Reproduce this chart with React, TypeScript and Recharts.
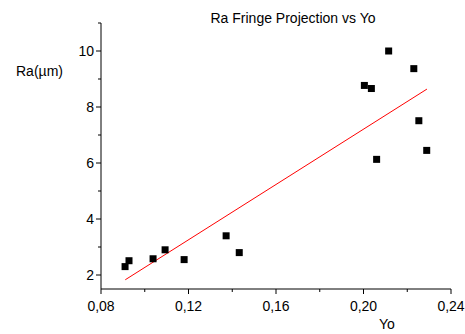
import { ScatterChart, Scatter, XAxis, YAxis } from 'recharts'

// Ra vs Yo measurements
const yoValues = [0.091, 0.0928, 0.1038, 0.1093, 0.118, 0.1372, 0.1432, 0.2004, 0.2036, 0.2115, 0.223, 0.2253, 0.206, 0.2289]
const raValues = [2.3, 2.51, 2.58, 2.9, 2.55, 3.4, 2.8, 8.77, 8.66, 10.0, 9.37, 7.51, 6.13, 6.45]

// linear fit end points
const fitYo = [0.0911, 0.229]
const fitRa = [1.83, 8.64]

const xTicks = [0.08, 0.1, 0.12, 0.14, 0.16, 0.18, 0.2, 0.22, 0.24]
const yTicks = [2, 3, 4, 5, 6, 7, 8, 9, 10, 11]

const points = yoValues.map((x, i) => ({ x, y: raValues[i] }))
const fit = fitYo.map((x, i) => ({ x, y: fitRa[i] }))

const FONT = '"Liberation Sans", Arial, sans-serif'

function XTick({ x, y, payload }: any) {
  const v = payload.value as number
  const major = Math.round(v * 100) % 4 === 0
  return (
    <g>
      <line x1={x} x2={x} y1={y} y2={y + (major ? 5 : 3)} stroke="#000" />
      {major && (
        <text x={x} y={y + 22} textAnchor="middle" fontSize={14} fontFamily={FONT} fill="#000">
          {v.toFixed(2).replace('.', ',')}
        </text>
      )}
    </g>
  )
}

function YTick({ x, y, payload }: any) {
  const v = payload.value as number
  const major = v % 2 === 0
  return (
    <g>
      <line x1={x} x2={x - (major ? 5 : 3)} y1={y} y2={y} stroke="#000" />
      {major && (
        <text x={x - 7} y={y + 5} textAnchor="end" fontSize={14} fontFamily={FONT} fill="#000">
          {v}
        </text>
      )}
    </g>
  )
}

const Square = ({ cx, cy }: any) => <rect x={cx - 3.5} y={cy - 3.5} width={7} height={7} fill="#000" />

export default function App() {
  return (
    <div style={{ position: 'absolute', left: 0, top: 0, width: 465, height: 334, background: '#fff', fontFamily: FONT }}>
      <div style={{ position: 'absolute', left: 0, width: 586, top: 9, textAlign: 'center', fontSize: 14, lineHeight: '18px' }}>
        Ra Fringe Projection vs Yo
      </div>
      <div style={{ position: 'absolute', left: 16, top: 62, fontSize: 14, lineHeight: '18px' }}>Ra(µm)</div>
      <div style={{ position: 'absolute', left: 379, top: 315, fontSize: 14, lineHeight: '18px' }}>Yo</div>
      <ScatterChart width={465} height={334} margin={{ top: 23, right: 14, left: 61, bottom: 15 }}>
        <XAxis
          type="number"
          dataKey="x"
          domain={[0.08, 0.24]}
          ticks={xTicks}
          interval={0}
          tick={<XTick />}
          tickLine={false}
          tickSize={0}
          tickMargin={0}
          axisLine={{ stroke: '#000' }}
          height={30}
          allowDataOverflow
        />
        <YAxis
          type="number"
          dataKey="y"
          domain={[1.5, 11]}
          ticks={yTicks}
          interval={0}
          tick={<YTick />}
          tickLine={false}
          tickSize={0}
          tickMargin={0}
          axisLine={{ stroke: '#000' }}
          width={40}
          allowDataOverflow
        />
        <Scatter data={fit} line={{ stroke: '#ff0000', strokeWidth: 1 }} shape={() => <g />} isAnimationActive={false} />
        <Scatter data={points} shape={<Square />} isAnimationActive={false} />
      </ScatterChart>
    </div>
  )
}
